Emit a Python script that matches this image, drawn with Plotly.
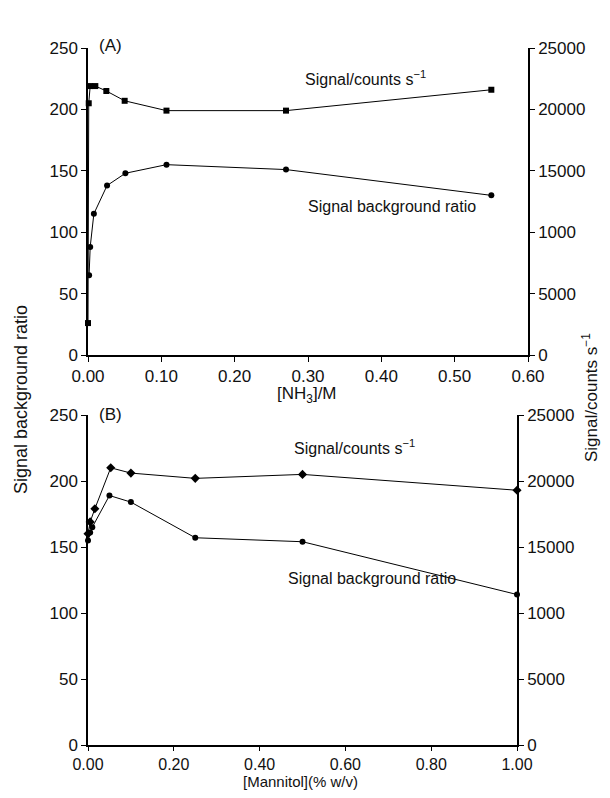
import plotly.graph_objects as go

# Panel A: NH3 concentration (M)
nh3_signal_x = [0.0, 0.001, 0.003, 0.01, 0.025, 0.05, 0.107, 0.27, 0.55]
nh3_signal_y = [2600, 20500, 21900, 21900, 21500, 20700, 19900, 19900, 21600]
nh3_ratio_x = [0.0015, 0.003, 0.008, 0.026, 0.051, 0.107, 0.27, 0.55]
nh3_ratio_y = [65, 88, 115, 138, 148, 155, 151, 130]

# Panel B: Mannitol (% w/v)
man_signal_x = [0.0, 0.005, 0.016, 0.053, 0.1, 0.25, 0.5, 1.0]
man_signal_y = [16000, 16900, 17900, 21000, 20600, 20200, 20500, 19300]
man_ratio_x = [0.0, 0.005, 0.01, 0.05, 0.1, 0.25, 0.5, 1.0]
man_ratio_y = [155, 161, 165, 189, 184, 157, 154, 114]

left_ticks = [0, 50, 100, 150, 200, 250]
right_ticks = [0, 5000, 10000, 15000, 20000, 25000]
right_ticktext = ["0", "5000", "1000", "15000", "20000", "25000"]
nh3_ticks = [0.0, 0.1, 0.2, 0.3, 0.4, 0.5, 0.6]
man_ticks = [0.0, 0.2, 0.4, 0.6, 0.8, 1.0]

FONT = "Liberation Sans, Arial, sans-serif"
TXT = "#111"
line = dict(color="black", width=1)

fig = go.Figure()
fig.add_trace(go.Scatter(x=nh3_ratio_x, y=nh3_ratio_y, mode="lines+markers",
                         line=line, marker=dict(symbol="circle", size=6, color="black"),
                         xaxis="x", yaxis="y", showlegend=False, cliponaxis=False))
fig.add_trace(go.Scatter(x=nh3_signal_x, y=nh3_signal_y, mode="lines+markers",
                         line=line, marker=dict(symbol="square", size=6, color="black"),
                         xaxis="x", yaxis="y2", showlegend=False, cliponaxis=False))
fig.add_trace(go.Scatter(x=man_ratio_x, y=man_ratio_y, mode="lines+markers",
                         line=line, marker=dict(symbol="circle", size=6, color="black"),
                         xaxis="x3", yaxis="y3", showlegend=False, cliponaxis=False))
fig.add_trace(go.Scatter(x=man_signal_x, y=man_signal_y, mode="lines+markers",
                         line=line, marker=dict(symbol="diamond", size=7, color="black"),
                         xaxis="x3", yaxis="y4", showlegend=False, cliponaxis=False))

# The page body has an 8 px margin; size the figure so it fits the window.
OFF = 8
W, H = 610 - 2 * OFF, 798 - 2 * OFF
def px(x):
    return (x - OFF) / W
def py(y):
    return 1 - (y - OFF) / H

axis_common = dict(showline=True, linecolor="black", linewidth=1.5, ticks="outside",
                   ticklen=5, tickcolor="black", showgrid=False, zeroline=False,
                   automargin=False,
                   tickfont=dict(family=FONT, size=17, color=TXT))
xb_common = dict(axis_common, ticklen=4, tickfont=dict(family=FONT, size=16, color=TXT))

fig.update_layout(
    width=W, height=H, margin=dict(l=0, r=0, t=0, b=0, autoexpand=False),
    paper_bgcolor="white", plot_bgcolor="white",
    font=dict(family=FONT, color=TXT),
    xaxis=dict(domain=[px(88), px(528)], range=[0, 0.6], tickvals=nh3_ticks,
               tickformat=".2f", anchor="y", **axis_common),
    yaxis=dict(domain=[py(355), py(48)], range=[0, 250], tickvals=left_ticks,
               anchor="x", **axis_common),
    yaxis2=dict(domain=[py(355), py(48)], range=[0, 25000], tickvals=right_ticks,
                ticktext=right_ticktext, overlaying="y", side="right", anchor="x",
                **axis_common),
    xaxis3=dict(domain=[px(88), px(517)], range=[0, 1.0], tickvals=man_ticks,
                tickformat=".2f", anchor="y3", **xb_common),
    yaxis3=dict(domain=[py(745), py(415)], range=[0, 250], tickvals=left_ticks,
                anchor="x3", **axis_common),
    yaxis4=dict(domain=[py(745), py(415)], range=[0, 25000], tickvals=right_ticks,
                ticktext=right_ticktext, overlaying="y3", side="right", anchor="x3",
                **axis_common),
)

ann_font = dict(family=FONT, size=16, color=TXT)
annotations = [
    dict(text="(A)", x=px(97), y=py(46), xanchor="left", yanchor="middle",
         font=dict(family=FONT, size=17, color=TXT)),
    dict(text="Signal/counts s<sup>−1</sup>", x=px(365), y=py(78), xanchor="center", yanchor="middle"),
    dict(text="Signal background ratio", x=px(392), y=py(206), xanchor="center", yanchor="middle"),
    dict(text="[NH<sub>3</sub>]/M", x=px(307), y=py(395), xanchor="center", yanchor="middle",
         font=dict(family=FONT, size=17, color=TXT)),
    dict(text="(B)", x=px(97), y=py(414), xanchor="left", yanchor="middle",
         font=dict(family=FONT, size=17, color=TXT)),
    dict(text="Signal/counts s<sup>−1</sup>", x=px(355), y=py(447), xanchor="center", yanchor="middle"),
    dict(text="Signal background ratio", x=px(372), y=py(578), xanchor="center", yanchor="middle"),
    dict(text="[Mannitol](% w/v)", x=px(300), y=py(781), xanchor="center", yanchor="middle",
         font=dict(family=FONT, size=15, color=TXT)),
    dict(text="Signal background ratio", x=px(21), y=py(400), xanchor="center", yanchor="middle",
         textangle=-90, font=dict(family=FONT, size=18, color=TXT)),
    dict(text="Signal/counts s<sup>−1</sup>", x=px(590), y=py(398), xanchor="center", yanchor="middle",
         textangle=-90, font=dict(family=FONT, size=17, color=TXT)),
]
for a in annotations:
    a.setdefault("font", ann_font)
    a.update(xref="paper", yref="paper", showarrow=False)
fig.update_layout(annotations=annotations)

fig.write_html("out.html")
